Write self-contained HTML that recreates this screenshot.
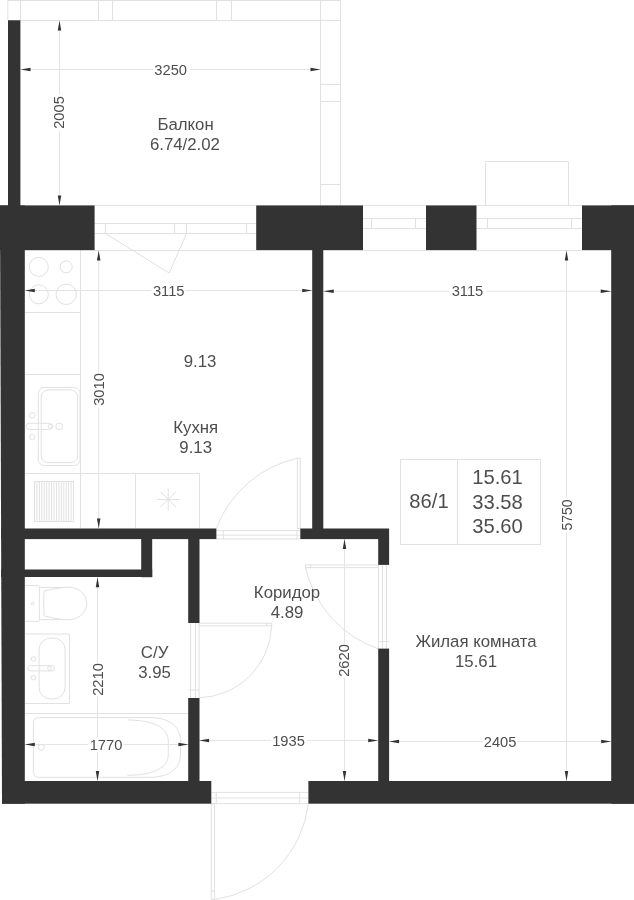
<!DOCTYPE html>
<html lang="ru">
<head>
<meta charset="utf-8">
<title>План квартиры 86/1</title>
<style>
html,body{margin:0;padding:0;background:#fff;}
body{width:634px;height:900px;overflow:hidden;position:relative;font-family:"Liberation Sans",sans-serif;}
svg{position:absolute;left:0;top:0;display:block;}
.w{fill:#333;stroke:none;}
.l{fill:none;stroke:#e1e1e1;stroke-width:1;}
.d{fill:none;stroke:#e4e4e4;stroke-width:1;}
.a{fill:#333;stroke:none;}
text{font-family:"Liberation Sans",sans-serif;fill:#484848;text-anchor:middle;}
.t17{font-size:16.8px;}
.t20{font-size:20.2px;}
.t15{font-size:14.7px;}
.bg{fill:#fff;stroke:none;}
</style>
</head>
<body>
<svg width="634" height="900" viewBox="0 0 634 900">
<rect x="0" y="0" width="634" height="900" fill="#fff"/>

<!-- ===== thin construction lines ===== -->
<g class="l" id="balcony-lines">
  <path d="M8 0.5H340.5 M8 20.5H340.5 M7.8 0V20 M20.5 0V20 M98.5 0V20 M112.5 0V20 M216.5 0V20 M231.5 0V20"/>
  <path d="M320.5 0V205.5 M340.5 0V205.5 M320.5 84.5H340.5 M320.5 101.5H340.5 M320.5 184.5H340.5"/>
</g>

<g class="l" id="window-lines">
  <!-- long lines across facade -->
  <path d="M94.5 205.5H256 M363 205.5H426 M476.5 205.5H582 M94.5 250.5H256 M363 250.5H426 M476.5 250.5H582"/>
  <!-- kitchen window / balcony door -->
  <path d="M94.5 223.5H256 M94.5 233.5H256 M105.5 223.5V233.5 M174.5 223.5V233.5 M186.5 223.5V233.5 M246.5 223.5V233.5"/>
  <path d="M105.5 233.5L169.2 273L186.5 233.5"/>
  <!-- living window 1 -->
  <path d="M363 218.5H426 M363 228.5H426 M371.5 218.5V228.5 M415.5 218.5V228.5"/>
  <!-- living window 2 -->
  <path d="M476.5 218.5H582 M476.5 228.5H582 M487.5 218.5V228.5 M571.5 218.5V228.5"/>
  <!-- unit above window -->
  <path d="M485.5 205.5V161.5H568.5V205.5"/>
</g>

<!-- ===== kitchen fixtures ===== -->
<g class="l" id="kitchen">
  <path d="M80.5 250V528.6 M25 312.5H80.5 M25 374.5H80.5 M25 473.5H199.5V528.6 M135.5 473.5V528.6"/>
  <circle cx="38.8" cy="266.9" r="9.5"/>
  <circle cx="66.2" cy="266.9" r="6"/>
  <circle cx="38.8" cy="294.3" r="9.5"/>
  <circle cx="66.2" cy="294.3" r="10.2"/>
  <!-- sink -->
  <rect x="38.3" y="387.4" width="41.8" height="78.1" rx="6" ry="6"/>
  <rect x="41.2" y="389.9" width="36.5" height="72.8" rx="7" ry="7"/>
  <rect x="26.2" y="423.3" width="26.3" height="6.2" rx="3.1" ry="3.1"/>
  <circle cx="50.2" cy="426.4" r="2"/>
  <rect x="56" y="423.4" width="6.5" height="6" rx="2.2" ry="2.2"/>
  <circle cx="32.3" cy="415.4" r="2.8"/>
  <circle cx="32.3" cy="437" r="2.8"/>
  <!-- dish rack -->
  <rect x="34.5" y="481.5" width="39" height="40"/>
  <path d="M36.9 481.5V521.5 M39.4 481.5V521.5 M41.8 481.5V521.5 M44.2 481.5V521.5 M46.7 481.5V521.5 M49.1 481.5V521.5 M51.6 481.5V521.5 M54.0 481.5V521.5 M56.4 481.5V521.5 M58.9 481.5V521.5 M61.3 481.5V521.5 M63.8 481.5V521.5 M66.2 481.5V521.5 M68.6 481.5V521.5 M71.1 481.5V521.5"/>
  <!-- star -->
  <path d="M168.2 488.5V510.5 M157.2 499.5H179.2 M160.4 491.7L176 507.3 M176 491.7L160.4 507.3"/>
</g>

<!-- ===== bathroom fixtures ===== -->
<g class="l" id="bath">
  <!-- toilet -->
  <path d="M25 585.6H38.4L39.4 586.6V620.3L38.4 621.3H25"/>
  <path d="M39.4 587.4H64C78 585.6 86.6 594 86.6 603.5C86.6 613 78 621.4 64 619.6H39.4"/>
  <path d="M64 587.4C57 588.2 50 589.6 44.1 591C43.6 599 43.6 608 44.1 615.8C50 617.4 57 618.8 64 619.6"/>
  <circle cx="32.8" cy="603.6" r="1.4"/>
  <!-- sink -->
  <path d="M25 634H69.5V703.5H25"/>
  <rect x="39.1" y="638" width="26" height="61" rx="12" ry="11.5"/>
  <rect x="27.8" y="665.7" width="26.7" height="5.2" rx="2.6" ry="2.6"/>
  <circle cx="49.5" cy="668.3" r="1.9"/>
  <circle cx="33.5" cy="659" r="2.3"/>
  <circle cx="33.5" cy="677.6" r="2.3"/>
  <!-- bathtub -->
  <path d="M25 713.5H189"/>
  <path d="M38.4 717.6H150C170 717.6 180.5 727 180.5 741V754C180.5 768 170 777.3 150 777.3H38.4C35.4 777.3 33.4 775.3 33.4 772.3V722.6C33.4 719.6 35.4 717.6 38.4 717.6Z"/>
  <path d="M127.4 720C152 720 168.3 727 168.3 741V754.5C168.3 768.5 152 775.3 127.4 775.3"/>
  <circle cx="41.3" cy="747.4" r="3"/>
</g>

<!-- ===== doors ===== -->
<g class="l" id="doors">
  <!-- kitchen door -->
  <rect x="297.4" y="458.3" width="2.9" height="70.2"/>
  <path d="M216.4 528.3A112 112 0 0 1 297.4 458.3"/>
  <path d="M216.4 530.6H300.3 M216.4 535.2H300.3 M216.4 539H300.3 M223.4 530.6V539 M296.9 530.6V539"/>
  <!-- bathroom door -->
  <rect x="199.1" y="623.2" width="72.6" height="2.6"/>
  <path d="M266.5 623.2V625.8"/>
  <path d="M271.7 625.8A75 75 0 0 1 199.3 697.8"/>
  <path d="M190.6 623V698 M195.5 623V698 M199.1 623V698 M188.4 690H199.1"/>
  <!-- living door -->
  <rect x="305.5" y="564.9" width="72.7" height="2.7"/>
  <path d="M310.8 564.9V567.6"/>
  <path d="M305.5 567.6A112 112 0 0 0 378.2 648.8"/>
  <path d="M378.5 564.7V648.6 M382.5 564.7V648.6 M386.5 564.7V648.6 M378.5 641.5H389"/>
  <!-- entrance door -->
  <rect x="211.3" y="803.7" width="3.2" height="95.8"/>
  <path d="M211.3 891H214.5"/>
  <path d="M308.4 803.7A110 110 0 0 1 214.5 899.5"/>
  <path d="M211.3 792.4H308.4 M211.3 798H308.4 M211.3 803.7H308.4 M216.3 792.4V803.7 M299.7 792.4V803.7"/>
</g>

<!-- ===== dimension lines ===== -->
<g class="d" id="dimlines">
  <path d="M20.5 69.5H320.5 M59.5 20V205.5"/>
  <path d="M25 290.5H312.2 M323.3 291.2H611"/>
  <path d="M98.7 250V528.6 M566.5 250V781 M344.5 539V781 M97.5 577V781"/>
  <path d="M25 744.5H189 M199 740.5H378.2 M389 741.5H611"/>
</g>

<!-- ===== table ===== -->
<g class="l" id="table">
  <rect x="400.5" y="459.5" width="140" height="85"/>
  <path d="M457.5 459.5V544.5"/>
</g>

<!-- ===== walls ===== -->
<g class="w" id="walls">
  <rect x="8" y="20.3" width="12.4" height="186"/>
  <rect x="0" y="205.4" width="94.6" height="44.8"/>
  <path d="M0 205.4H24.8V803.7H2Z"/>
  <rect x="256.2" y="205.4" width="106.8" height="44.8"/>
  <rect x="312.2" y="249" width="11.1" height="280"/>
  <rect x="426" y="205.4" width="50.5" height="44.8"/>
  <rect x="582" y="205.4" width="52" height="44.8"/>
  <rect x="611.2" y="205.4" width="22.8" height="598.3"/>
  <rect x="1" y="528.5" width="215.4" height="10.6"/>
  <rect x="1" y="569.5" width="151.2" height="7.5"/>
  <rect x="141.2" y="538" width="11" height="39.2"/>
  <rect x="188.2" y="538" width="11.3" height="85"/>
  <rect x="188.2" y="698" width="11.3" height="84"/>
  <rect x="300.3" y="528.5" width="88.8" height="10.6"/>
  <rect x="378.2" y="538" width="10.9" height="26.9"/>
  <rect x="378.2" y="648.6" width="10.9" height="133"/>
  <rect x="2" y="781" width="209.3" height="22.7"/>
  <rect x="308.4" y="781" width="325.6" height="22.7"/>
</g>

<!-- ===== arrows ===== -->
<g class="a" id="arrows">
  <!-- horizontal: 3250 -->
  <path d="M20.5 69.5l10 -1.75v3.5z M320.5 69.5l-10 -1.75v3.5z"/>
  <!-- vertical: 2005 -->
  <path d="M59.5 20.5l-1.75 10h3.5z M59.5 205.5l-1.75 -10h3.5z"/>
  <!-- 3115 kitchen -->
  <path d="M24.8 290.5l10 -1.75v3.5z M312.2 290.5l-10 -1.75v3.5z"/>
  <!-- 3115 living -->
  <path d="M323.3 291.2l10.5 -1.75v3.5z M611.2 291.2l-10.5 -1.75v3.5z"/>
  <!-- 3010 -->
  <path d="M98.7 250.5l-1.75 10h3.5z M98.7 528.5l-1.75 -10h3.5z"/>
  <!-- 5750 -->
  <path d="M566.5 250.5l-1.75 10h3.5z M566.5 781l-1.75 -10h3.5z"/>
  <!-- 2620 -->
  <path d="M344.5 539l-1.75 10h3.5z M344.5 781l-1.75 -10h3.5z"/>
  <!-- 2210 -->
  <path d="M97.5 577.2l-1.75 10h3.5z M97.5 781l-1.75 -10h3.5z"/>
  <!-- 1770 -->
  <path d="M24.8 744.5l10 -1.75v3.5z M188.4 744.5l-10 -1.75v3.5z"/>
  <!-- 1935 -->
  <path d="M199.1 740.5l10 -1.75v3.5z M378.2 740.5l-10 -1.75v3.5z"/>
  <!-- 2405 -->
  <path d="M389.1 741.5l10 -1.75v3.5z M611.2 741.5l-10 -1.75v3.5z"/>
</g>

<!-- ===== text ===== -->
<g id="labels" opacity="0.97">
  <rect class="bg" x="153" y="62" width="37" height="15"/>
  <text class="t15" x="170.7" y="74.6">3250</text>
  <rect class="bg" x="52" y="94" width="15" height="37"/>
  <text class="t15" transform="translate(64.1 112.5) rotate(-90)">2005</text>
  <text class="t17" x="185.6" y="130">Балкон</text>
  <text class="t17" x="184.9" y="150">6.74/2.02</text>

  <rect class="bg" x="151.2" y="283" width="34.7" height="15"/>
  <text class="t15" x="168.7" y="295.8">3115</text>
  <rect class="bg" x="449" y="283" width="37" height="15"/>
  <text class="t15" x="467.5" y="296">3115</text>

  <rect class="bg" x="92" y="372" width="15" height="36"/>
  <text class="t15" transform="translate(104.3 389.5) rotate(-90)">3010</text>

  <text class="t17" x="200.1" y="366.8">9.13</text>
  <text class="t17" x="195.7" y="432.8">Кухня</text>
  <text class="t17" x="195.7" y="452.6">9.13</text>

  <text class="t20" x="429" y="508">86/1</text>
  <text class="t20" x="497.5" y="483.5">15.61</text>
  <text class="t20" x="497.5" y="508.7">33.58</text>
  <text class="t20" x="497.5" y="533.2">35.60</text>

  <rect class="bg" x="560" y="498" width="13" height="34"/>
  <text class="t15" style="font-size:14px" transform="translate(571.5 515) rotate(-90)">5750</text>

  <text class="t17" x="287" y="598">Коридор</text>
  <text class="t17" x="287" y="618">4.89</text>

  <rect class="bg" x="337" y="643" width="15" height="35"/>
  <text class="t15" transform="translate(349.2 660.5) rotate(-90)">2620</text>

  <text class="t17" x="154.6" y="658">С/У</text>
  <text class="t17" x="154.6" y="678">3.95</text>

  <rect class="bg" x="90" y="662" width="15" height="35"/>
  <text class="t15" transform="translate(102.6 679.5) rotate(-90)">2210</text>

  <text class="t17" x="476" y="647">Жилая комната</text>
  <text class="t17" x="476" y="667">15.61</text>

  <rect class="bg" x="88" y="737" width="36" height="15"/>
  <text class="t15" x="106" y="749.5">1770</text>
  <rect class="bg" x="271" y="733" width="36" height="15"/>
  <text class="t15" x="288.5" y="746">1935</text>
  <rect class="bg" x="482.5" y="734" width="35" height="15"/>
  <text class="t15" x="500.1" y="746.5">2405</text>
</g>
</svg>
</body>
</html>
